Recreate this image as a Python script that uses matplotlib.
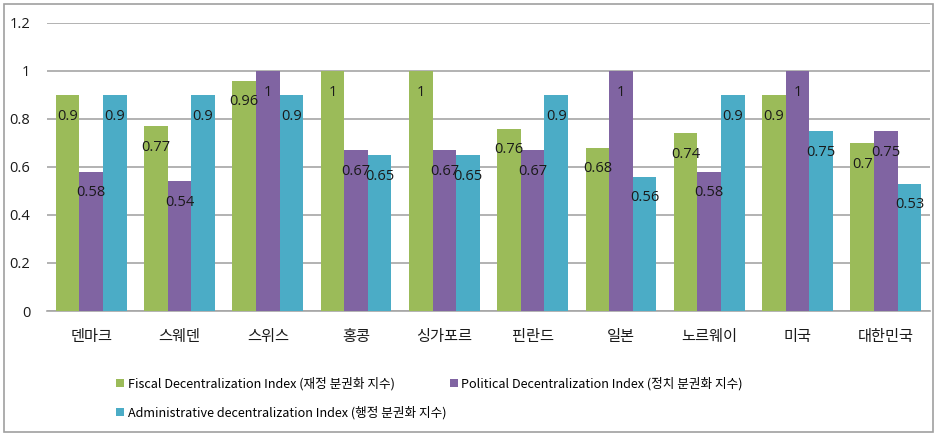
import matplotlib
matplotlib.use("Agg")
import matplotlib.pyplot as plt
from matplotlib.patches import Rectangle
import numpy as np

plt.rcParams['font.family'] = ['Noto Sans CJK KR', 'DejaVu Sans']

categories = ['덴마크', '스웨덴', '스위스', '홍콩', '싱가포르', '핀란드', '일본', '노르웨이', '미국', '대한민국']
fiscal = [0.9, 0.77, 0.96, 1, 1, 0.76, 0.68, 0.74, 0.9, 0.7]
political = [0.58, 0.54, 1, 0.67, 0.67, 0.67, 1, 0.58, 1, 0.75]
administrative = [0.9, 0.9, 0.9, 0.65, 0.65, 0.9, 0.56, 0.9, 0.75, 0.53]
series_names = ['Fiscal Decentralization Index (재정 분권화 지수)',
                'Political Decentralization Index (정치 분권화 지수)',
                'Administrative decentralization Index (행정 분권화 지수)']
colors = ['#9BBB59', '#8064A2', '#4BACC6']
yticks = [0, 0.2, 0.4, 0.6, 0.8, 1, 1.2]
ytick_labels = ['0', '0.2', '0.4', '0.6', '0.8', '1', '1.2']

W, H = 938, 436
fig = plt.figure(figsize=(W / 100, H / 100), dpi=100)
fig.patch.set_facecolor('white')
fig.add_artist(Rectangle((4 / W, 4 / H), 929 / W, 428 / H, transform=fig.transFigure,
                         fill=False, edgecolor='#A0A0A0', linewidth=1.2))

ax = fig.add_axes([47 / W, (H - 311) / H, (930 - 47) / W, 288 / H])
x = np.arange(len(categories))
bw = 0.267
data = [fiscal, political, administrative]
bars = []
for i, (vals, c, name) in enumerate(zip(data, colors, series_names)):
    b = ax.bar(x + (i - 1) * bw, vals, width=bw, color=c, label=name, zorder=3)
    bars.append(b)
    for xi, v in zip(x, vals):
        lbl = ('%g' % v)
        ax.annotate(lbl, (xi + (i - 1) * bw, v), xytext=(0, -21), textcoords='offset pixels',
                    ha='center', va='center', fontsize=10.5, color='#1a1a1a', zorder=4,
                    family=['Open Sans', 'DejaVu Sans'])

ax.set_xlim(-0.5, len(categories) - 0.5)
ax.set_ylim(0, 1.2)
ax.set_yticks(yticks)
ax.set_yticklabels(ytick_labels, fontsize=10.5, family=['Open Sans', 'DejaVu Sans'])
ax.set_xticks(x)
ax.set_xticklabels(categories, fontsize=11)
ax.tick_params(axis='both', length=0, colors='#1a1a1a')
ax.tick_params(axis='y', pad=12)
ax.tick_params(axis='x', pad=12)
ax.grid(axis='y', color='#A6A6A6', linewidth=1.2, zorder=0)
for s in ['top', 'right', 'left']:
    ax.spines[s].set_visible(False)
ax.spines['bottom'].set_color('#A6A6A6')
ax.spines['bottom'].set_linewidth(1.2)
ax.set_facecolor('white')

handles = [bars[0], bars[2], bars[1]]
labels = [series_names[0], series_names[2], series_names[1]]
fig.legend(handles, labels, ncol=2, loc='upper left', bbox_to_anchor=(105 / W, 1 - 366 / H),
           frameon=False, fontsize=9.1, handlelength=0.6, handleheight=0.6, handletextpad=0.3,
           columnspacing=0.3, labelspacing=1.2)

fig.savefig('out.png', dpi=100)
